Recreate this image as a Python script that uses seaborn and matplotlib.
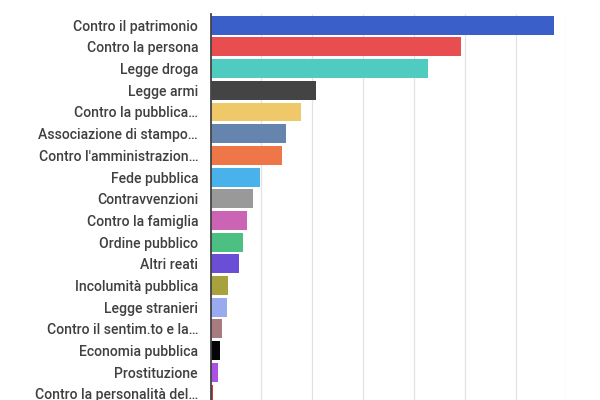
import matplotlib
matplotlib.use("Agg")
import matplotlib.pyplot as plt
import seaborn as sns
import pandas as pd

# Categories (labels as shown, truncated ones included)
categories = [
    "Contro il patrimonio",
    "Contro la persona",
    "Legge droga",
    "Legge armi",
    "Contro la pubblica…",
    "Associazione di stampo…",
    "Contro l'amministrazion…",
    "Fede pubblica",
    "Contravvenzioni",
    "Contro la famiglia",
    "Ordine pubblico",
    "Altri reati",
    "Incolumità pubblica",
    "Legge stranieri",
    "Contro il sentim.to e la…",
    "Economia pubblica",
    "Prostituzione",
    "Contro la personalità del…",
]

# Values (grid step assumed 5000)
values = [33800, 24650, 21400, 10350, 8900, 7450, 7000, 4900, 4200,
          3550, 3150, 2750, 1700, 1650, 1150, 950, 750, 225]

colors = [
    "#3a5fc9", "#e84d50", "#4fcbc0", "#444444", "#efc86a", "#6685ae",
    "#ef7649", "#4ab2ea", "#999999", "#cc64b6", "#4cbf82", "#6a4fd6",
    "#a8a23e", "#9aaaee", "#a87b80", "#050505", "#aa52e6", "#d8383a",
]

df = pd.DataFrame({"categoria": categories, "valore": values})

sns.set_theme(style="white")
plt.rcParams["font.family"] = ["Roboto", "DejaVu Sans"]

fig = plt.figure(figsize=(6, 4), dpi=100)
ax = fig.add_axes([0.351, -0.012, 0.593, 0.976])

sns.barplot(data=df, y="categoria", x="valore", hue="categoria",
            palette=colors, legend=False, width=0.87, linewidth=0,
            saturation=1, ax=ax)

ax.set_xlim(0, 35000)
ax.set_ylim(len(categories) - 0.5, -0.5)
ax.set_xticks(range(0, 35001, 5000))
ax.xaxis.grid(True, color="#e2e2e2", linewidth=0.9)
ax.set_axisbelow(True)
ax.set_xticklabels([])
ax.set_xlabel("")
ax.set_ylabel("")
ax.tick_params(axis="y", length=0, pad=9, labelsize=10.1, labelcolor="#404040")
ax.tick_params(axis="x", length=0)
for lbl in ax.get_yticklabels():
    lbl.set_fontweight("medium")

for side in ["top", "right", "bottom"]:
    ax.spines[side].set_visible(False)
ax.spines["left"].set_color("#444444")
ax.spines["left"].set_linewidth(1.3)

fig.savefig("out.png", dpi=100)
